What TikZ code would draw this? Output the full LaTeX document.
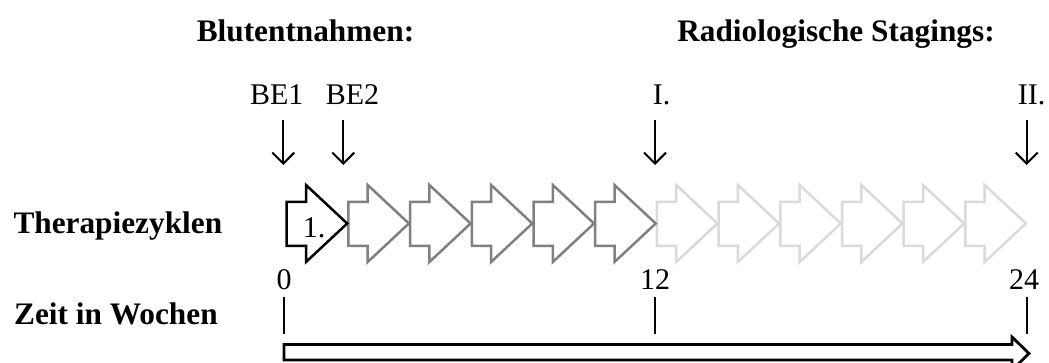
\documentclass[tikz,border=0pt]{standalone}
\usepackage{fontspec}
\setmainfont{Liberation Serif}
\usetikzlibrary{arrows.meta}
\definecolor{midgray}{HTML}{808080}
\definecolor{lightgray2}{HTML}{DADADA}
\tikzset{
  lbl/.style={inner sep=0pt, anchor=base, font=\fontsize{30}{36}\selectfont},
  title/.style={inner sep=0pt, anchor=base, font=\fontsize{31.3}{37}\selectfont\bfseries},
  downarrow/.style={line width=2pt, -{Straight Barb[length=11pt,width=22pt,line width=2pt]}},
  tick/.style={line width=2pt},
  cyc/.style={line width=2.5pt, line join=miter, fill=white},
}
\newcommand{\cycarrow}[2]{%
  \draw[cyc, draw=#2] (#1,202) -- ++(19.3,0) -- ++(0,-17) -- (#1+60.5,223.5)
    -- (#1+19.3,262) -- ++(0,-16) -- (#1,246) -- cycle;}
\begin{document}
\begin{tikzpicture}[x=1pt,y=-1pt]
\clip (0,0) rectangle (1049,363);
\useasboundingbox (0,0) rectangle (1049,363);

% titles
\node[title] (tblut) at (305.5,41.7) {Blutentnahmen:};
\node[title] (tradio) at (836,41.7) {Radiologische Stagings:};
\node[title, anchor=base west] (ttherapie) at (13.3,233.3) {Therapiezyklen};
\node[title, anchor=base west] (tzeit) at (14,324) {Zeit in Wochen};

% top labels
\node[lbl] (be1) at (276.7,105) {BE1};
\node[lbl] (be2) at (352.5,105) {BE2};
\node[lbl] (st1) at (661.5,105) {I.};
\node[lbl] (st2) at (1031.7,105) {II.};

% down arrows
\coordinate (a1s) at (283.3,120); \coordinate (a1e) at (283.3,165);
\coordinate (a2s) at (343.3,120); \coordinate (a2e) at (343.3,165);
\coordinate (a3s) at (655,120);   \coordinate (a3e) at (655,165);
\coordinate (a4s) at (1026.7,120);\coordinate (a4e) at (1026.7,165);
\draw[downarrow] (a1s) -- (a1e);
\draw[downarrow] (a2s) -- (a2e);
\draw[downarrow] (a3s) -- (a3e);
\draw[downarrow] (a4s) -- (a4e);

% cycle arrows
\foreach \i in {6,...,11}{\pgfmathsetmacro{\L}{286.7+61.7*\i}\cycarrow{\L}{lightgray2}}
\foreach \i in {1,...,5}{\pgfmathsetmacro{\L}{286.7+61.7*\i}\cycarrow{\L}{midgray}}
\cycarrow{286.7}{black}
\node[lbl] (c1) at (314,238) {1.};

% week labels and ticks
\node[lbl] (w0) at (284,290) {0};
\node[lbl] (w12) at (655,290) {12};
\node[lbl] (w24) at (1024,290) {24};
\coordinate (t0s) at (284,296.5); \coordinate (t0e) at (284,334);
\coordinate (t12s) at (655,296.5); \coordinate (t12e) at (655,334);
\coordinate (t24s) at (1026.7,296.5); \coordinate (t24e) at (1026.7,334);
\draw[tick] (t0s) -- (t0e);
\draw[tick] (t12s) -- (t12e);
\draw[tick] (t24s) -- (t24e);

% time arrow
\draw[line width=2.8pt, line join=miter] (284,344.5) -- (1012,344.5) -- (1012,337) -- (1029,353.5)
  -- (1012,370) -- (1012,360) -- (284,360) -- cycle;
\end{tikzpicture}
\end{document}
